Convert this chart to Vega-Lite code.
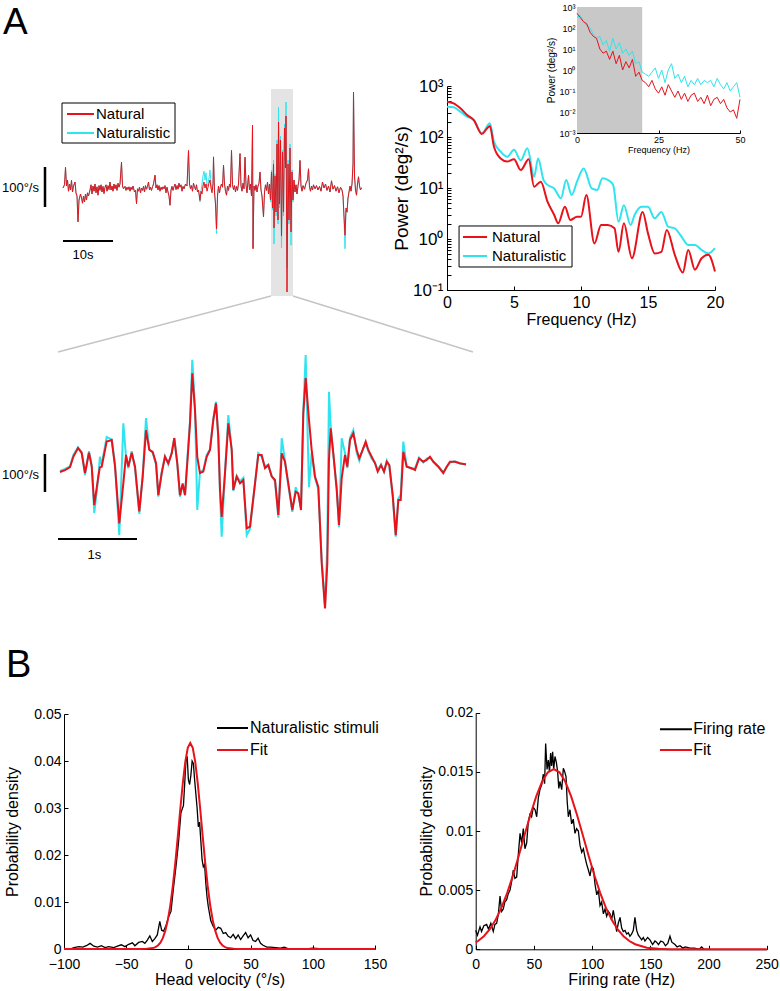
{
  "$schema": "https://vega.github.io/schema/vega-lite/v6.json",
  "width": 780,
  "height": 991,
  "autosize": {"type": "none"},
  "padding": 0,
  "background": "white",
  "config": {
    "font": "Liberation Sans",
    "view": {"stroke": null},
    "axis": {"grid": false, "domainColor": "#000", "tickColor": "#000", "labelColor": "#000", "titleColor": "#000", "titleFontWeight": "normal", "labelFont": "Liberation Sans", "titleFont": "Liberation Sans", "domainWidth": 1, "tickWidth": 1, "labelFlush": false, "labelOverlap": false},
    "text": {"font": "Liberation Sans", "color": "#000"}
  },
  "datasets": {
    "top": [
      {"t":0,"nat":0,"nl":0},{"t":0.3,"nat":8,"nl":8},{"t":0.5,"nat":52,"nl":50},{"t":0.7,"nat":5,"nl":5},{"t":0.9,"nat":20,"nl":18},{"t":1.1,"nat":-8,"nl":-8},{"t":1.3,"nat":10,"nl":10},{"t":1.5,"nat":-5,"nl":-5},{"t":1.7,"nat":19,"nl":19},{"t":1.9,"nat":-10,"nl":-10},{"t":2.1,"nat":5,"nl":5},{"t":2.4,"nat":15,"nl":15},{"t":2.6,"nat":-12,"nl":-15},{"t":2.8,"nat":-20,"nl":-20},{"t":3.0,"nat":-85,"nl":-82},{"t":3.2,"nat":-30,"nl":-30},{"t":3.5,"nat":-15,"nl":-15},{"t":3.7,"nat":-25,"nl":-25},{"t":3.9,"nat":-38,"nl":-38},{"t":4.1,"nat":-20,"nl":-20},{"t":4.3,"nat":-35,"nl":-35},{"t":4.5,"nat":-15,"nl":-15},{"t":4.7,"nat":-30,"nl":-30},{"t":4.9,"nat":-12,"nl":-12},{"t":5.1,"nat":-20,"nl":-20},{"t":5.4,"nat":-5,"nl":-5},{"t":5.6,"nat":8,"nl":8},{"t":5.8,"nat":-15,"nl":-15},{"t":6.0,"nat":5,"nl":5},{"t":6.2,"nat":-8,"nl":-8},{"t":6.4,"nat":10,"nl":10},{"t":6.6,"nat":-12,"nl":-12},{"t":6.8,"nat":3,"nl":3},{"t":7.0,"nat":-18,"nl":-18},{"t":7.2,"nat":6,"nl":6},{"t":7.4,"nat":-6,"nl":-6},{"t":7.6,"nat":8,"nl":8},{"t":7.8,"nat":-10,"nl":-10},{"t":8.0,"nat":4,"nl":4},{"t":8.2,"nat":-14,"nl":-14},{"t":8.4,"nat":2,"nl":2},{"t":8.6,"nat":8,"nl":8},{"t":8.8,"nat":-8,"nl":-8},{"t":9.0,"nat":6,"nl":6},{"t":9.2,"nat":-4,"nl":-4},{"t":9.4,"nat":15,"nl":15},{"t":9.6,"nat":-5,"nl":-5},{"t":9.8,"nat":5,"nl":5},{"t":10.0,"nat":-8,"nl":-8},{"t":10.2,"nat":10,"nl":10},{"t":10.4,"nat":-2,"nl":-2},{"t":10.6,"nat":8,"nl":8},{"t":10.8,"nat":-6,"nl":-6},{"t":11.0,"nat":12,"nl":12},{"t":11.2,"nat":2,"nl":2},{"t":11.4,"nat":10,"nl":10},{"t":11.7,"nat":65,"nl":62},{"t":11.9,"nat":5,"nl":5},{"t":12.1,"nat":-2,"nl":-2},{"t":12.4,"nat":4,"nl":4},{"t":12.6,"nat":-6,"nl":-6},{"t":12.8,"nat":2,"nl":2},{"t":13.0,"nat":-4,"nl":-4},{"t":13.2,"nat":3,"nl":3},{"t":13.4,"nat":-8,"nl":-8},{"t":13.6,"nat":2,"nl":2},{"t":13.8,"nat":-4,"nl":-4},{"t":14.0,"nat":5,"nl":5},{"t":14.3,"nat":-10,"nl":-10},{"t":14.5,"nat":-6,"nl":-6},{"t":14.7,"nat":-39,"nl":-39},{"t":14.9,"nat":-2,"nl":-2},{"t":15.1,"nat":-8,"nl":-8},{"t":15.3,"nat":2,"nl":2},{"t":15.5,"nat":-12,"nl":-12},{"t":15.7,"nat":0,"nl":0},{"t":15.9,"nat":-6,"nl":-6},{"t":16.1,"nat":4,"nl":4},{"t":16.3,"nat":-10,"nl":-10},{"t":16.5,"nat":6,"nl":6},{"t":16.7,"nat":-3,"nl":-3},{"t":16.9,"nat":4,"nl":4},{"t":17.1,"nat":15,"nl":15},{"t":17.3,"nat":-5,"nl":-5},{"t":17.5,"nat":2,"nl":2},{"t":17.7,"nat":-6,"nl":-6},{"t":17.9,"nat":3,"nl":3},{"t":18.1,"nat":10,"nl":10},{"t":18.4,"nat":32,"nl":32},{"t":18.6,"nat":0,"nl":0},{"t":18.8,"nat":8,"nl":8},{"t":19.0,"nat":-5,"nl":-5},{"t":19.2,"nat":6,"nl":6},{"t":19.4,"nat":-8,"nl":-8},{"t":19.6,"nat":2,"nl":2},{"t":19.8,"nat":-4,"nl":-4},{"t":20.0,"nat":3,"nl":3},{"t":20.2,"nat":-2,"nl":-2},{"t":20.4,"nat":6,"nl":6},{"t":20.6,"nat":-12,"nl":-12},{"t":20.8,"nat":2,"nl":2},{"t":21.0,"nat":-10,"nl":-10},{"t":21.2,"nat":-20,"nl":-20},{"t":21.4,"nat":-43,"nl":-43},{"t":21.6,"nat":-5,"nl":-5},{"t":21.8,"nat":4,"nl":4},{"t":22.0,"nat":-6,"nl":-6},{"t":22.2,"nat":3,"nl":3},{"t":22.4,"nat":10,"nl":10},{"t":22.6,"nat":-4,"nl":-4},{"t":22.8,"nat":6,"nl":6},{"t":23.0,"nat":-3,"nl":-3},{"t":23.2,"nat":12,"nl":12},{"t":23.4,"nat":2,"nl":2},{"t":23.6,"nat":8,"nl":8},{"t":23.8,"nat":-8,"nl":-8},{"t":24.0,"nat":4,"nl":4},{"t":24.2,"nat":-2,"nl":-2},{"t":24.5,"nat":10,"nl":10},{"t":24.8,"nat":5,"nl":5},{"t":25.1,"nat":94,"nl":92},{"t":25.3,"nat":10,"nl":10},{"t":25.5,"nat":-2,"nl":-2},{"t":25.7,"nat":6,"nl":6},{"t":25.9,"nat":-8,"nl":-8},{"t":26.1,"nat":12,"nl":12},{"t":26.3,"nat":3,"nl":3},{"t":26.5,"nat":-4,"nl":-4},{"t":26.7,"nat":8,"nl":8},{"t":26.9,"nat":-10,"nl":-10},{"t":27.1,"nat":-5,"nl":-5},{"t":27.4,"nat":-31,"nl":-35},{"t":27.6,"nat":-8,"nl":-8},{"t":27.8,"nat":-15,"nl":10},{"t":28.0,"nat":5,"nl":30},{"t":28.2,"nat":15,"nl":42},{"t":28.4,"nat":0,"nl":20},{"t":28.6,"nat":10,"nl":38},{"t":28.8,"nat":-8,"nl":5},{"t":29.0,"nat":2,"nl":10},{"t":29.2,"nat":12,"nl":25},{"t":29.4,"nat":20,"nl":45},{"t":29.6,"nat":0,"nl":10},{"t":29.8,"nat":-12,"nl":-5},{"t":30.0,"nat":10,"nl":10},{"t":30.1,"nat":78,"nl":75},{"t":30.3,"nat":-10,"nl":-10},{"t":30.5,"nat":-40,"nl":-40},{"t":30.7,"nat":-102,"nl":-114},{"t":30.9,"nat":-20,"nl":-20},{"t":31.1,"nat":5,"nl":5},{"t":31.3,"nat":-12,"nl":-12},{"t":31.5,"nat":3,"nl":3},{"t":31.7,"nat":10,"nl":10},{"t":31.9,"nat":2,"nl":2},{"t":32.1,"nat":57,"nl":57},{"t":32.3,"nat":10,"nl":10},{"t":32.5,"nat":-8,"nl":-8},{"t":32.7,"nat":-18,"nl":-18},{"t":32.9,"nat":5,"nl":5},{"t":33.1,"nat":-6,"nl":-6},{"t":33.3,"nat":10,"nl":10},{"t":33.5,"nat":2,"nl":2},{"t":33.7,"nat":94,"nl":94},{"t":33.9,"nat":8,"nl":8},{"t":34.1,"nat":-4,"nl":-4},{"t":34.3,"nat":6,"nl":6},{"t":34.5,"nat":-10,"nl":-10},{"t":34.7,"nat":4,"nl":4},{"t":34.9,"nat":-6,"nl":-6},{"t":35.1,"nat":10,"nl":10},{"t":35.4,"nat":86,"nl":86},{"t":35.6,"nat":5,"nl":5},{"t":35.8,"nat":-8,"nl":-8},{"t":36.0,"nat":12,"nl":12},{"t":36.2,"nat":-2,"nl":-2},{"t":36.4,"nat":77,"nl":77},{"t":36.6,"nat":8,"nl":8},{"t":36.8,"nat":-12,"nl":-12},{"t":37.1,"nat":32,"nl":32},{"t":37.3,"nat":-5,"nl":-5},{"t":37.5,"nat":10,"nl":10},{"t":37.7,"nat":-20,"nl":-20},{"t":37.9,"nat":157,"nl":150},{"t":38.0,"nat":-152,"nl":-150},{"t":38.2,"nat":5,"nl":5},{"t":38.4,"nat":-6,"nl":-6},{"t":38.6,"nat":8,"nl":8},{"t":38.8,"nat":-10,"nl":-10},{"t":39.0,"nat":5,"nl":5},{"t":39.2,"nat":12,"nl":12},{"t":39.4,"nat":40,"nl":40},{"t":39.6,"nat":-5,"nl":-5},{"t":39.8,"nat":-20,"nl":-20},{"t":40.1,"nat":-72,"nl":-72},{"t":40.3,"nat":-10,"nl":-10},{"t":40.5,"nat":8,"nl":8},{"t":40.7,"nat":-6,"nl":-6},{"t":40.9,"nat":15,"nl":15},{"t":41.1,"nat":-15,"nl":-15},{"t":41.3,"nat":10,"nl":10},{"t":41.5,"nat":-30,"nl":-35},{"t":41.7,"nat":40,"nl":45},{"t":41.9,"nat":-50,"nl":-55},{"t":42.1,"nat":60,"nl":70},{"t":42.2,"nat":-100,"nl":-140},{"t":42.4,"nat":30,"nl":35},{"t":42.6,"nat":-60,"nl":-70},{"t":42.8,"nat":110,"nl":120},{"t":43.0,"nat":-80,"nl":-90},{"t":43.1,"nat":165,"nl":202},{"t":43.3,"nat":-40,"nl":-50},{"t":43.5,"nat":120,"nl":130},{"t":43.7,"nat":-120,"nl":-150},{"t":43.9,"nat":90,"nl":95},{"t":44.1,"nat":-60,"nl":-70},{"t":44.3,"nat":150,"nl":160},{"t":44.5,"nat":50,"nl":60},{"t":44.6,"nat":180,"nl":215},{"t":44.8,"nat":-260,"nl":-200},{"t":45.0,"nat":60,"nl":70},{"t":45.2,"nat":-80,"nl":-90},{"t":45.4,"nat":100,"nl":110},{"t":45.6,"nat":-110,"nl":-143},{"t":45.8,"nat":40,"nl":45},{"t":46.0,"nat":-30,"nl":-35},{"t":46.2,"nat":20,"nl":20},{"t":46.4,"nat":-10,"nl":-10},{"t":46.6,"nat":8,"nl":8},{"t":46.8,"nat":-15,"nl":-15},{"t":47.0,"nat":5,"nl":5},{"t":47.2,"nat":20,"nl":20},{"t":47.4,"nat":69,"nl":69},{"t":47.6,"nat":5,"nl":5},{"t":47.8,"nat":-8,"nl":-8},{"t":48.0,"nat":6,"nl":6},{"t":48.3,"nat":-3,"nl":-3},{"t":48.6,"nat":12,"nl":12},{"t":48.9,"nat":20,"nl":20},{"t":49.1,"nat":48,"nl":48},{"t":49.3,"nat":2,"nl":2},{"t":49.5,"nat":-8,"nl":-8},{"t":49.7,"nat":5,"nl":5},{"t":49.9,"nat":-5,"nl":-5},{"t":50.1,"nat":8,"nl":8},{"t":50.4,"nat":-2,"nl":-2},{"t":50.7,"nat":6,"nl":6},{"t":51.0,"nat":-5,"nl":-5},{"t":51.3,"nat":4,"nl":4},{"t":51.6,"nat":-8,"nl":-8},{"t":51.9,"nat":15,"nl":15},{"t":52.2,"nat":0,"nl":0},{"t":52.5,"nat":10,"nl":10},{"t":52.8,"nat":-6,"nl":-6},{"t":53.1,"nat":5,"nl":5},{"t":53.4,"nat":-10,"nl":-10},{"t":53.7,"nat":18,"nl":18},{"t":54.0,"nat":-3,"nl":-3},{"t":54.3,"nat":6,"nl":6},{"t":54.6,"nat":-8,"nl":-8},{"t":54.9,"nat":3,"nl":3},{"t":55.2,"nat":-12,"nl":-12},{"t":55.5,"nat":2,"nl":2},{"t":55.8,"nat":-5,"nl":-5},{"t":56.0,"nat":-20,"nl":-20},{"t":56.2,"nat":-70,"nl":-75},{"t":56.4,"nat":-118,"nl":-152},{"t":56.6,"nat":-50,"nl":-55},{"t":56.8,"nat":-60,"nl":-62},{"t":57.0,"nat":-25,"nl":-25},{"t":57.2,"nat":-10,"nl":-10},{"t":57.4,"nat":5,"nl":5},{"t":57.6,"nat":-8,"nl":-8},{"t":57.8,"nat":10,"nl":10},{"t":58.0,"nat":60,"nl":60},{"t":58.1,"nat":240,"nl":238},{"t":58.3,"nat":30,"nl":30},{"t":58.5,"nat":-5,"nl":-5},{"t":58.7,"nat":-18,"nl":-18},{"t":58.9,"nat":10,"nl":10},{"t":59.1,"nat":28,"nl":28},{"t":59.3,"nat":5,"nl":5},{"t":59.5,"nat":-5,"nl":-5},{"t":59.7,"nat":0,"nl":2}
    ],
    "bot": [
      {"t":0.025,"nat":0,"nl":3},{"t":0.089,"nat":5,"nl":8},{"t":0.152,"nat":13,"nl":15},{"t":0.194,"nat":40,"nl":45},{"t":0.253,"nat":63,"nl":65},{"t":0.3,"nat":50,"nl":52},{"t":0.342,"nat":-3,"nl":-8},{"t":0.392,"nat":51,"nl":55},{"t":0.427,"nat":14,"nl":18},{"t":0.459,"nat":-87,"nl":-108},{"t":0.51,"nat":-12,"nl":-15},{"t":0.53,"nat":12,"nl":40},{"t":0.553,"nat":14,"nl":20},{"t":0.616,"nat":80,"nl":92},{"t":0.68,"nat":84,"nl":86},{"t":0.722,"nat":14,"nl":20},{"t":0.776,"nat":-135,"nl":-166},{"t":0.827,"nat":-30,"nl":128},{"t":0.861,"nat":45,"nl":40},{"t":0.89,"nat":14,"nl":10},{"t":0.933,"nat":51,"nl":55},{"t":0.975,"nat":14,"nl":10},{"t":1.029,"nat":-104,"nl":-110},{"t":1.072,"nat":-12,"nl":-10},{"t":1.114,"nat":110,"nl":142},{"t":1.156,"nat":58,"nl":60},{"t":1.199,"nat":53,"nl":50},{"t":1.241,"nat":23,"nl":20},{"t":1.27,"nat":-61,"nl":-65},{"t":1.313,"nat":-3,"nl":0},{"t":1.354,"nat":40,"nl":42},{"t":1.396,"nat":23,"nl":20},{"t":1.439,"nat":49,"nl":50},{"t":1.472,"nat":89,"nl":90},{"t":1.51,"nat":23,"nl":20},{"t":1.544,"nat":-61,"nl":-65},{"t":1.578,"nat":-30,"nl":-35},{"t":1.608,"nat":-61,"nl":-60},{"t":1.642,"nat":40,"nl":50},{"t":1.671,"nat":128,"nl":135},{"t":1.7,"nat":260,"nl":295},{"t":1.734,"nat":163,"nl":170},{"t":1.763,"nat":40,"nl":-100},{"t":1.797,"nat":-3,"nl":0},{"t":1.839,"nat":1,"nl":5},{"t":1.882,"nat":40,"nl":45},{"t":1.924,"nat":58,"nl":60},{"t":1.966,"nat":137,"nl":140},{"t":2.0,"nat":181,"nl":185},{"t":2.029,"nat":93,"nl":95},{"t":2.051,"nat":-47,"nl":-60},{"t":2.072,"nat":-118,"nl":-170},{"t":2.114,"nat":-3,"nl":0},{"t":2.156,"nat":128,"nl":150},{"t":2.199,"nat":58,"nl":60},{"t":2.219,"nat":-47,"nl":-50},{"t":2.262,"nat":-12,"nl":-10},{"t":2.304,"nat":-30,"nl":-25},{"t":2.346,"nat":-21,"nl":-15},{"t":2.389,"nat":-148,"nl":-166},{"t":2.43,"nat":-144,"nl":-150},{"t":2.494,"nat":-30,"nl":-30},{"t":2.535,"nat":45,"nl":50},{"t":2.578,"nat":45,"nl":40},{"t":2.62,"nat":10,"nl":15},{"t":2.662,"nat":18,"nl":20},{"t":2.705,"nat":-12,"nl":-10},{"t":2.747,"nat":-21,"nl":-25},{"t":2.789,"nat":-113,"nl":-120},{"t":2.832,"nat":49,"nl":89},{"t":2.873,"nat":27,"nl":30},{"t":2.915,"nat":-30,"nl":-35},{"t":2.966,"nat":-100,"nl":-105},{"t":3.009,"nat":-52,"nl":-40},{"t":3.042,"nat":-56,"nl":-60},{"t":3.076,"nat":-100,"nl":-95},{"t":3.105,"nat":154,"nl":160},{"t":3.135,"nat":247,"nl":308},{"t":3.177,"nat":137,"nl":-40},{"t":3.211,"nat":58,"nl":50},{"t":3.253,"nat":-12,"nl":-15},{"t":3.295,"nat":-39,"nl":-45},{"t":3.338,"nat":-240,"nl":-230},{"t":3.38,"nat":-359,"nl":-355},{"t":3.409,"nat":-240,"nl":-190},{"t":3.43,"nat":32,"nl":211},{"t":3.452,"nat":115,"nl":120},{"t":3.485,"nat":49,"nl":45},{"t":3.528,"nat":-47,"nl":-40},{"t":3.557,"nat":-139,"nl":-145},{"t":3.591,"nat":-17,"nl":89},{"t":3.633,"nat":45,"nl":50},{"t":3.662,"nat":14,"nl":10},{"t":3.696,"nat":84,"nl":90},{"t":3.738,"nat":102,"nl":110},{"t":3.781,"nat":58,"nl":50},{"t":3.814,"nat":36,"nl":30},{"t":3.857,"nat":58,"nl":60},{"t":3.895,"nat":80,"nl":75},{"t":3.928,"nat":58,"nl":55},{"t":3.971,"nat":40,"nl":35},{"t":4.013,"nat":23,"nl":25},{"t":4.047,"nat":1,"nl":5},{"t":4.089,"nat":18,"nl":20},{"t":4.127,"nat":1,"nl":0},{"t":4.162,"nat":27,"nl":30},{"t":4.194,"nat":18,"nl":15},{"t":4.237,"nat":-61,"nl":-65},{"t":4.275,"nat":-166,"nl":-170},{"t":4.308,"nat":-74,"nl":-70},{"t":4.338,"nat":-74,"nl":-60},{"t":4.371,"nat":53,"nl":80},{"t":4.414,"nat":14,"nl":15},{"t":4.477,"nat":10,"nl":8},{"t":4.519,"nat":5,"nl":10},{"t":4.57,"nat":36,"nl":38},{"t":4.624,"nat":27,"nl":25},{"t":4.667,"nat":32,"nl":35},{"t":4.709,"nat":40,"nl":38},{"t":4.751,"nat":27,"nl":28},{"t":4.814,"nat":14,"nl":15},{"t":4.877,"nat":-3,"nl":0},{"t":4.92,"nat":14,"nl":12},{"t":4.962,"nat":27,"nl":25},{"t":5.025,"nat":27,"nl":28},{"t":5.089,"nat":23,"nl":22},{"t":5.165,"nat":20,"nl":21}
    ],
    "specNat": [
      {"f":0,"p":493},{"f":0.5,"p":457},{"f":1,"p":365},{"f":1.5,"p":270},{"f":2,"p":215},{"f":2.6,"p":115},{"f":3,"p":148},{"f":3.2,"p":164},{"f":3.5,"p":65},{"f":4,"p":38},{"f":4.5,"p":33},{"f":5,"p":36.5},{"f":5.5,"p":22.5},{"f":6.1,"p":36.5},{"f":6.5,"p":10.6},{"f":7,"p":13.3},{"f":7.5,"p":5.4},{"f":8,"p":2.96},{"f":8.3,"p":2.03},{"f":8.8,"p":4.3},{"f":9.2,"p":2.36},{"f":9.7,"p":2.74},{"f":10,"p":2.74},{"f":10.4,"p":7.3},{"f":11,"p":0.82},{"f":11.5,"p":1.88},{"f":12,"p":1.88},{"f":12.5,"p":1.62},{"f":12.8,"p":0.56},{"f":13.2,"p":2.03},{"f":13.8,"p":0.42},{"f":14.6,"p":3.4},{"f":15,"p":1.29},{"f":15.5,"p":0.52},{"f":16,"p":0.56},{"f":16.4,"p":1.5},{"f":17,"p":0.49},{"f":17.6,"p":0.22},{"f":18,"p":0.61},{"f":18.5,"p":0.25},{"f":19,"p":0.42},{"f":19.5,"p":0.49},{"f":20,"p":0.23}
    ],
    "specNl": [
      {"f":0,"p":394},{"f":0.5,"p":382},{"f":1,"p":314},{"f":1.5,"p":250},{"f":2,"p":215},{"f":2.6,"p":118},{"f":3.2,"p":185},{"f":3.5,"p":81},{"f":4,"p":52},{"f":4.5,"p":41},{"f":5,"p":56},{"f":5.5,"p":35},{"f":6,"p":60},{"f":6.5,"p":16.7},{"f":6.8,"p":38},{"f":7.2,"p":14.4},{"f":7.5,"p":11.5},{"f":8,"p":9.8},{"f":8.5,"p":6.3},{"f":8.9,"p":14.4},{"f":9.3,"p":7.3},{"f":9.7,"p":13.3},{"f":10.2,"p":24},{"f":10.8,"p":9.8},{"f":11.2,"p":9.1},{"f":11.6,"p":15.5},{"f":12,"p":14.4},{"f":12.4,"p":11.5},{"f":12.8,"p":2.19},{"f":13.2,"p":4.6},{"f":13.7,"p":1.88},{"f":14,"p":2.96},{"f":14.5,"p":4.3},{"f":15,"p":4.3},{"f":15.5,"p":2.54},{"f":16,"p":3.4},{"f":16.5,"p":1.75},{"f":17,"p":1.62},{"f":17.5,"p":1.11},{"f":18,"p":0.76},{"f":18.5,"p":0.76},{"f":19,"p":0.61},{"f":19.5,"p":0.52},{"f":20,"p":0.66}
    ],
    "inset": [
      {"f":0,"nat":501,"nl":316},{"f":1,"nat":316,"nl":398},{"f":2,"nat":200,"nl":200},{"f":3,"nat":158,"nl":126},{"f":4,"nat":63,"nl":100},{"f":5,"nat":40,"nl":50},{"f":6,"nat":32,"nl":32},{"f":7,"nat":10,"nl":40},{"f":8,"nat":6.3,"nl":15.8},{"f":9,"nat":7.9,"nl":25},{"f":10,"nat":3.2,"nl":7.9},{"f":11,"nat":7.9,"nl":32},{"f":12,"nat":2,"nl":10},{"f":13,"nat":5,"nl":20},{"f":14,"nat":1,"nl":6.3},{"f":15,"nat":2.5,"nl":10},{"f":16,"nat":1.26,"nl":5},{"f":17,"nat":3.2,"nl":7.9},{"f":18,"nat":0.5,"nl":2},{"f":19,"nat":0.79,"nl":2.5},{"f":20,"nat":0.32,"nl":0.79},{"f":21,"nat":0.25,"nl":0.63},{"f":22,"nat":0.16,"nl":0.5},{"f":23,"nat":0.32,"nl":0.79},{"f":24,"nat":0.126,"nl":1.26},{"f":25,"nat":0.079,"nl":0.4},{"f":26,"nat":0.158,"nl":1},{"f":27,"nat":0.063,"nl":0.25},{"f":28,"nat":0.2,"nl":1},{"f":29,"nat":0.1,"nl":2},{"f":30,"nat":0.05,"nl":0.4},{"f":31,"nat":0.1,"nl":0.63},{"f":32,"nat":0.04,"nl":0.25},{"f":33,"nat":0.079,"nl":0.5},{"f":34,"nat":0.032,"nl":0.158},{"f":35,"nat":0.063,"nl":0.32},{"f":36,"nat":0.079,"nl":0.2},{"f":37,"nat":0.032,"nl":0.4},{"f":38,"nat":0.05,"nl":0.2},{"f":39,"nat":0.025,"nl":0.32},{"f":40,"nat":0.063,"nl":0.25},{"f":41,"nat":0.02,"nl":0.32},{"f":42,"nat":0.04,"nl":0.158},{"f":43,"nat":0.05,"nl":0.4},{"f":44,"nat":0.025,"nl":0.2},{"f":45,"nat":0.04,"nl":0.126},{"f":46,"nat":0.0158,"nl":0.25},{"f":47,"nat":0.01,"nl":0.1},{"f":48,"nat":0.0126,"nl":0.158},{"f":49,"nat":0.005,"nl":0.25},{"f":50,"nat":0.04,"nl":0.05}
    ],
    "bl": [
      {"v":-95,"p":0},{"v":-92,"p":0.0003},{"v":-88,"p":0.0005},{"v":-85,"p":0.0004},{"v":-82,"p":0.0007},{"v":-79,"p":0.0012},{"v":-76,"p":0.0006},{"v":-73,"p":0.0004},{"v":-70,"p":0.0007},{"v":-67,"p":0.0003},{"v":-64,"p":0.0005},{"v":-60,"p":0.0003},{"v":-57,"p":0.0006},{"v":-54,"p":0.0009},{"v":-51,"p":0.0005},{"v":-48,"p":0.001},{"v":-45,"p":0.0013},{"v":-43,"p":0.0007},{"v":-40,"p":0.0014},{"v":-37,"p":0.0016},{"v":-35,"p":0.0012},{"v":-33,"p":0.0019},{"v":-31,"p":0.0028},{"v":-29,"p":0.0016},{"v":-27,"p":0.0022},{"v":-25,"p":0.003},{"v":-23,"p":0.0059},{"v":-21.5,"p":0.004},{"v":-20,"p":0.0038},{"v":-18,"p":0.005},{"v":-16,"p":0.0068},{"v":-14,"p":0.008},{"v":-12,"p":0.013},{"v":-10,"p":0.0175},{"v":-8,"p":0.0225},{"v":-6,"p":0.029},{"v":-4,"p":0.0305},{"v":-3,"p":0.035},{"v":-2,"p":0.04},{"v":-1,"p":0.041},{"v":0,"p":0.036},{"v":1,"p":0.035},{"v":2,"p":0.037},{"v":3,"p":0.04},{"v":4,"p":0.0395},{"v":5,"p":0.036},{"v":6,"p":0.033},{"v":7,"p":0.03},{"v":8,"p":0.026},{"v":9,"p":0.027},{"v":10,"p":0.023},{"v":11,"p":0.019},{"v":12,"p":0.0175},{"v":13,"p":0.018},{"v":14,"p":0.014},{"v":15,"p":0.011},{"v":16,"p":0.009},{"v":17,"p":0.0075},{"v":18,"p":0.006},{"v":20,"p":0.0048},{"v":22,"p":0.004},{"v":24,"p":0.0046},{"v":26,"p":0.0044},{"v":28,"p":0.0033},{"v":30,"p":0.0035},{"v":32,"p":0.0027},{"v":34,"p":0.0024},{"v":36,"p":0.0031},{"v":38,"p":0.0022},{"v":40,"p":0.003},{"v":42,"p":0.002},{"v":44,"p":0.0028},{"v":46,"p":0.0035},{"v":48,"p":0.0024},{"v":50,"p":0.003},{"v":52,"p":0.0018},{"v":54,"p":0.0016},{"v":56,"p":0.0023},{"v":58,"p":0.0012},{"v":60,"p":0.0008},{"v":63,"p":0.0004},{"v":66,"p":0.0004},{"v":70,"p":0.0003},{"v":74,"p":0.0002},{"v":77,"p":0.0004},{"v":80,"p":0.0001},{"v":85,"p":0.0001},{"v":95,"p":0},{"v":100,"p":0.0002},{"v":105,"p":0.0001},{"v":110,"p":0}
    ],
    "blfit": [
      {"v":-100,"p":0},{"v":-38.5,"p":0},{"v":-33.5,"p":0.00003},{"v":-28.5,"p":0.00019},{"v":-26.5,"p":0.00039},{"v":-24.5,"p":0.00074},{"v":-22.5,"p":0.00135},{"v":-20.5,"p":0.00236},{"v":-18.5,"p":0.00392},{"v":-16.5,"p":0.0062},{"v":-14.5,"p":0.00935},{"v":-12.5,"p":0.01342},{"v":-10.5,"p":0.01838},{"v":-8.5,"p":0.02397},{"v":-6.5,"p":0.02979},{"v":-4.5,"p":0.03527},{"v":-2.5,"p":0.0398},{"v":-0.5,"p":0.04279},{"v":1.5,"p":0.04384},{"v":3.5,"p":0.04279},{"v":5.5,"p":0.0398},{"v":7.5,"p":0.03527},{"v":9.5,"p":0.02979},{"v":11.5,"p":0.02397},{"v":13.5,"p":0.01838},{"v":15.5,"p":0.01342},{"v":17.5,"p":0.00935},{"v":19.5,"p":0.0062},{"v":21.5,"p":0.00392},{"v":23.5,"p":0.00236},{"v":25.5,"p":0.00135},{"v":27.5,"p":0.00074},{"v":29.5,"p":0.00039},{"v":31.5,"p":0.00019},{"v":36.5,"p":0.00003},{"v":41.5,"p":0},{"v":150,"p":0}
    ],
    "br": [
      {"hz":0,"p":0.0016},{"hz":1.5,"p":0.0012},{"hz":3.7,"p":0.0019},{"hz":5,"p":0.0015},{"hz":7,"p":0.002},{"hz":9.4,"p":0.0021},{"hz":11,"p":0.0017},{"hz":13,"p":0.0022},{"hz":15.1,"p":0.0015},{"hz":16.5,"p":0.0021},{"hz":18,"p":0.0022},{"hz":19.5,"p":0.003},{"hz":20.9,"p":0.0045},{"hz":22.3,"p":0.0032},{"hz":23.7,"p":0.0034},{"hz":25,"p":0.004},{"hz":26.6,"p":0.0042},{"hz":28,"p":0.0047},{"hz":29.5,"p":0.005},{"hz":31,"p":0.0058},{"hz":32.3,"p":0.0067},{"hz":33.7,"p":0.006},{"hz":35.2,"p":0.0061},{"hz":36.6,"p":0.008},{"hz":38.1,"p":0.0098},{"hz":39.5,"p":0.009},{"hz":40.9,"p":0.0102},{"hz":42.3,"p":0.0085},{"hz":43.8,"p":0.009},{"hz":45.2,"p":0.0108},{"hz":46.6,"p":0.0114},{"hz":48,"p":0.0112},{"hz":49.5,"p":0.012},{"hz":51,"p":0.0118},{"hz":52.4,"p":0.0112},{"hz":53.8,"p":0.0128},{"hz":55.2,"p":0.0135},{"hz":56.7,"p":0.0139},{"hz":58.1,"p":0.0148},{"hz":59.2,"p":0.014},{"hz":60.1,"p":0.0174},{"hz":61.3,"p":0.0152},{"hz":62.4,"p":0.016},{"hz":63.4,"p":0.015},{"hz":64.4,"p":0.0166},{"hz":65.2,"p":0.0155},{"hz":66.1,"p":0.0167},{"hz":67,"p":0.0152},{"hz":68.1,"p":0.0163},{"hz":69.3,"p":0.0158},{"hz":70.4,"p":0.015},{"hz":71.4,"p":0.0136},{"hz":72.4,"p":0.0142},{"hz":73.9,"p":0.0135},{"hz":75.3,"p":0.0153},{"hz":76.5,"p":0.015},{"hz":77.6,"p":0.0146},{"hz":78.6,"p":0.0125},{"hz":79.6,"p":0.0112},{"hz":81,"p":0.0118},{"hz":82.4,"p":0.0106},{"hz":83.8,"p":0.011},{"hz":85.3,"p":0.0098},{"hz":86.7,"p":0.0102},{"hz":88.2,"p":0.01},{"hz":89.6,"p":0.0088},{"hz":91.1,"p":0.0082},{"hz":92.5,"p":0.0085},{"hz":93.9,"p":0.0078},{"hz":95.3,"p":0.0072},{"hz":96.8,"p":0.0067},{"hz":98.2,"p":0.0062},{"hz":99.6,"p":0.007},{"hz":101.1,"p":0.0068},{"hz":102.5,"p":0.0055},{"hz":104,"p":0.0046},{"hz":105.4,"p":0.005},{"hz":106.8,"p":0.0037},{"hz":108.2,"p":0.004},{"hz":109.7,"p":0.003},{"hz":111.1,"p":0.0034},{"hz":112.5,"p":0.0028},{"hz":114,"p":0.0032},{"hz":115.4,"p":0.003},{"hz":116.8,"p":0.0025},{"hz":118.2,"p":0.0033},{"hz":119.7,"p":0.0024},{"hz":121.1,"p":0.0015},{"hz":122.5,"p":0.0022},{"hz":124,"p":0.0027},{"hz":125.4,"p":0.0018},{"hz":126.8,"p":0.0015},{"hz":128.3,"p":0.0016},{"hz":129.7,"p":0.0013},{"hz":131.1,"p":0.0014},{"hz":132.5,"p":0.0011},{"hz":134,"p":0.0013},{"hz":135.4,"p":0.0016},{"hz":136.8,"p":0.0027},{"hz":138.3,"p":0.0016},{"hz":139.7,"p":0.0012},{"hz":141.1,"p":0.001},{"hz":142.6,"p":0.0008},{"hz":144,"p":0.001},{"hz":145.4,"p":0.0007},{"hz":147.7,"p":0.001},{"hz":149.7,"p":0.0008},{"hz":152,"p":0.0004},{"hz":154,"p":0.0007},{"hz":155.4,"p":0.0006},{"hz":157,"p":0.0004},{"hz":159,"p":0.0007},{"hz":161.2,"p":0.0006},{"hz":163,"p":0.0003},{"hz":165,"p":0.0005},{"hz":166.9,"p":0.0011},{"hz":168.5,"p":0.0006},{"hz":171.2,"p":0.0004},{"hz":173,"p":0.0002},{"hz":175.5,"p":0.0003},{"hz":178,"p":0.0001},{"hz":180,"p":0.0002},{"hz":184.1,"p":0.0001},{"hz":188,"p":0.0001},{"hz":192,"p":0},{"hz":194.1,"p":0.0002},{"hz":196,"p":0},{"hz":201.3,"p":0}
    ],
    "brfit": [
      {"hz":0,"p":0.00058},{"hz":2,"p":0.0007},{"hz":7,"p":0.00111},{"hz":12,"p":0.00168},{"hz":17,"p":0.00247},{"hz":22,"p":0.00348},{"hz":27,"p":0.00475},{"hz":32,"p":0.00624},{"hz":37,"p":0.00791},{"hz":42,"p":0.00966},{"hz":47,"p":0.01138},{"hz":52,"p":0.01293},{"hz":57,"p":0.01416},{"hz":62,"p":0.01496},{"hz":67,"p":0.01523},{"hz":72,"p":0.01496},{"hz":77,"p":0.01416},{"hz":82,"p":0.01293},{"hz":87,"p":0.01138},{"hz":92,"p":0.00966},{"hz":97,"p":0.00791},{"hz":102,"p":0.00624},{"hz":107,"p":0.00475},{"hz":112,"p":0.00348},{"hz":117,"p":0.00247},{"hz":122,"p":0.00168},{"hz":127,"p":0.00111},{"hz":132,"p":0.0007},{"hz":137,"p":0.00043},{"hz":147,"p":0.00014},{"hz":157,"p":0.00004},{"hz":167,"p":0.00001},{"hz":180,"p":0},{"hz":250,"p":0}
    ]
  },
  "resolve": {"scale": {"x": "independent", "y": "independent"}, "axis": {"x": "independent", "y": "independent"}},
  "layer": [
    {"data": {"values": [{}]}, "mark": {"type": "rect", "color": "#e4e4e4"},
     "encoding": {"x": {"datum": 41.6, "type": "quantitative", "axis": null, "scale": {"domain": [0, 60], "range": [63, 363], "nice": false, "zero": false}}, "x2": {"datum": 46.0}, "y": {"datum": 247.5, "type": "quantitative", "axis": null, "scale": {"domain": [-300, 300], "range": [308, 68], "nice": false, "zero": false}}, "y2": {"datum": -270}}},
    {"data": {"name": "top"}, "mark": {"type": "line", "color": "#2fe4ee", "strokeWidth": 1},
     "encoding": {"x": {"field": "t", "type": "quantitative", "axis": null, "scale": {"domain": [0, 60], "range": [63, 363], "nice": false, "zero": false}}, "y": {"field": "nl", "type": "quantitative", "axis": null, "scale": {"domain": [-300, 300], "range": [308, 68], "nice": false, "zero": false}}}},
    {"data": {"name": "top"}, "mark": {"type": "line", "color": "#e8121a", "strokeWidth": 1},
     "encoding": {"x": {"field": "t", "type": "quantitative", "axis": null, "scale": {"domain": [0, 60], "range": [63, 363], "nice": false, "zero": false}}, "y": {"field": "nat", "type": "quantitative", "axis": null, "scale": {"domain": [-300, 300], "range": [308, 68], "nice": false, "zero": false}}}},
    {"data": {"values": [{}]}, "mark": {"type": "rule", "color": "#000", "strokeWidth": 2.5},
     "encoding": {"x": {"datum": -3.6, "type": "quantitative", "axis": null, "scale": {"domain": [0, 60], "range": [63, 363], "nice": false, "zero": false}}, "y": {"datum": 52.5, "type": "quantitative", "axis": null, "scale": {"domain": [-300, 300], "range": [308, 68], "nice": false, "zero": false}}, "y2": {"datum": -47.5}}},
    {"data": {"values": [{}]}, "mark": {"type": "rule", "color": "#000", "strokeWidth": 2},
     "encoding": {"x": {"datum": 0, "type": "quantitative", "axis": null, "scale": {"domain": [0, 60], "range": [63, 363], "nice": false, "zero": false}}, "x2": {"datum": 10}, "y": {"datum": -132.5, "type": "quantitative", "axis": null, "scale": {"domain": [-300, 300], "range": [308, 68], "nice": false, "zero": false}}}},
    {"data": {"values": [{"label": "100°/s"}]}, "mark": {"type": "text", "align": "right", "baseline": "middle", "fontSize": 13},
     "encoding": {"x": {"datum": -4.8, "type": "quantitative", "axis": null, "scale": {"domain": [0, 60], "range": [63, 363], "nice": false, "zero": false}}, "y": {"datum": 0, "type": "quantitative", "axis": null, "scale": {"domain": [-300, 300], "range": [308, 68], "nice": false, "zero": false}}, "text": {"field": "label"}}},
    {"data": {"values": [{"label": "10s"}]}, "mark": {"type": "text", "align": "center", "baseline": "middle", "fontSize": 13},
     "encoding": {"x": {"datum": 4, "type": "quantitative", "axis": null, "scale": {"domain": [0, 60], "range": [63, 363], "nice": false, "zero": false}}, "y": {"datum": -167.5, "type": "quantitative", "axis": null, "scale": {"domain": [-300, 300], "range": [308, 68], "nice": false, "zero": false}}, "text": {"field": "label"}}},
    {"data": {"values": [{"label": "A"}]}, "mark": {"type": "text", "align": "left", "baseline": "alphabetic", "fontSize": 37},
     "encoding": {"x": {"datum": -12, "type": "quantitative", "axis": null, "scale": {"domain": [0, 60], "range": [63, 363], "nice": false, "zero": false}}, "y": {"datum": 385, "type": "quantitative", "axis": null, "scale": {"domain": [-300, 300], "range": [308, 68], "nice": false, "zero": false}}, "text": {"field": "label"}}},
    {"data": {"values": [{}]}, "mark": {"type": "rect", "fill": "#fff", "stroke": "#000", "strokeWidth": 1},
     "encoding": {"x": {"datum": -0.2, "type": "quantitative", "axis": null, "scale": {"domain": [0, 60], "range": [63, 363], "nice": false, "zero": false}}, "x2": {"datum": 22.4}, "y": {"datum": 212.5, "type": "quantitative", "axis": null, "scale": {"domain": [-300, 300], "range": [308, 68], "nice": false, "zero": false}}, "y2": {"datum": 112.5}}},
    {"data": {"values": [{}]}, "mark": {"type": "rule", "color": "#e8121a", "strokeWidth": 2},
     "encoding": {"x": {"datum": 0.8, "type": "quantitative", "axis": null, "scale": {"domain": [0, 60], "range": [63, 363], "nice": false, "zero": false}}, "x2": {"datum": 6.2}, "y": {"datum": 185, "type": "quantitative", "axis": null, "scale": {"domain": [-300, 300], "range": [308, 68], "nice": false, "zero": false}}}},
    {"data": {"values": [{}]}, "mark": {"type": "rule", "color": "#2fe4ee", "strokeWidth": 2},
     "encoding": {"x": {"datum": 0.8, "type": "quantitative", "axis": null, "scale": {"domain": [0, 60], "range": [63, 363], "nice": false, "zero": false}}, "x2": {"datum": 6.2}, "y": {"datum": 137.5, "type": "quantitative", "axis": null, "scale": {"domain": [-300, 300], "range": [308, 68], "nice": false, "zero": false}}}},
    {"data": {"values": [{"label": "Natural"}]}, "mark": {"type": "text", "align": "left", "baseline": "middle", "fontSize": 15},
     "encoding": {"x": {"datum": 6.6, "type": "quantitative", "axis": null, "scale": {"domain": [0, 60], "range": [63, 363], "nice": false, "zero": false}}, "y": {"datum": 185, "type": "quantitative", "axis": null, "scale": {"domain": [-300, 300], "range": [308, 68], "nice": false, "zero": false}}, "text": {"field": "label"}}},
    {"data": {"values": [{"label": "Naturalistic"}]}, "mark": {"type": "text", "align": "left", "baseline": "middle", "fontSize": 15},
     "encoding": {"x": {"datum": 6.6, "type": "quantitative", "axis": null, "scale": {"domain": [0, 60], "range": [63, 363], "nice": false, "zero": false}}, "y": {"datum": 137.5, "type": "quantitative", "axis": null, "scale": {"domain": [-300, 300], "range": [308, 68], "nice": false, "zero": false}}, "text": {"field": "label"}}},

    {"data": {"values": [{}]}, "mark": {"type": "rule", "color": "#c4c4c4", "strokeWidth": 1.5},
     "encoding": {"x": {"datum": 2.696, "type": "quantitative", "axis": null, "scale": {"domain": [0, 5.25], "range": [58, 472.75], "nice": false, "zero": false}}, "y": {"datum": 463.2, "type": "quantitative", "axis": null, "scale": {"domain": [-400, 400], "range": [624, 320], "nice": false, "zero": false}}, "x2": {"datum": 0}, "y2": {"datum": 315.8}}},
    {"data": {"values": [{}]}, "mark": {"type": "rule", "color": "#c4c4c4", "strokeWidth": 1.5},
     "encoding": {"x": {"datum": 2.975, "type": "quantitative", "axis": null, "scale": {"domain": [0, 5.25], "range": [58, 472.75], "nice": false, "zero": false}}, "y": {"datum": 463.2, "type": "quantitative", "axis": null, "scale": {"domain": [-400, 400], "range": [624, 320], "nice": false, "zero": false}}, "x2": {"datum": 5.253}, "y2": {"datum": 315.8}}},
    {"data": {"name": "bot"}, "mark": {"type": "line", "color": "#2fe4ee", "strokeWidth": 2},
     "encoding": {"x": {"field": "t", "type": "quantitative", "axis": null, "scale": {"domain": [0, 5.25], "range": [58, 472.75], "nice": false, "zero": false}}, "y": {"field": "nl", "type": "quantitative", "axis": null, "scale": {"domain": [-400, 400], "range": [624, 320], "nice": false, "zero": false}}}},
    {"data": {"name": "bot"}, "mark": {"type": "line", "color": "#e8121a", "strokeWidth": 2},
     "encoding": {"x": {"field": "t", "type": "quantitative", "axis": null, "scale": {"domain": [0, 5.25], "range": [58, 472.75], "nice": false, "zero": false}}, "y": {"field": "nat", "type": "quantitative", "axis": null, "scale": {"domain": [-400, 400], "range": [624, 320], "nice": false, "zero": false}}}},
    {"data": {"values": [{}]}, "mark": {"type": "rule", "color": "#000", "strokeWidth": 2.5},
     "encoding": {"x": {"datum": -0.165, "type": "quantitative", "axis": null, "scale": {"domain": [0, 5.25], "range": [58, 472.75], "nice": false, "zero": false}}, "y": {"datum": 47.4, "type": "quantitative", "axis": null, "scale": {"domain": [-400, 400], "range": [624, 320], "nice": false, "zero": false}}, "y2": {"datum": -52.6}}},
    {"data": {"values": [{}]}, "mark": {"type": "rule", "color": "#000", "strokeWidth": 2},
     "encoding": {"x": {"datum": 0, "type": "quantitative", "axis": null, "scale": {"domain": [0, 5.25], "range": [58, 472.75], "nice": false, "zero": false}}, "x2": {"datum": 1}, "y": {"datum": -176.3, "type": "quantitative", "axis": null, "scale": {"domain": [-400, 400], "range": [624, 320], "nice": false, "zero": false}}}},
    {"data": {"values": [{"label": "100°/s"}]}, "mark": {"type": "text", "align": "right", "baseline": "middle", "fontSize": 13},
     "encoding": {"x": {"datum": -0.24, "type": "quantitative", "axis": null, "scale": {"domain": [0, 5.25], "range": [58, 472.75], "nice": false, "zero": false}}, "y": {"datum": -7.9, "type": "quantitative", "axis": null, "scale": {"domain": [-400, 400], "range": [624, 320], "nice": false, "zero": false}}, "text": {"field": "label"}}},
    {"data": {"values": [{"label": "1s"}]}, "mark": {"type": "text", "align": "center", "baseline": "middle", "fontSize": 13},
     "encoding": {"x": {"datum": 0.46, "type": "quantitative", "axis": null, "scale": {"domain": [0, 5.25], "range": [58, 472.75], "nice": false, "zero": false}}, "y": {"datum": -218.4, "type": "quantitative", "axis": null, "scale": {"domain": [-400, 400], "range": [624, 320], "nice": false, "zero": false}}, "text": {"field": "label"}}},

    {"data": {"name": "specNl"}, "mark": {"type": "line", "color": "#2fe4ee", "strokeWidth": 2, "interpolate": "monotone"},
     "encoding": {
       "x": {"field": "f", "type": "quantitative", "scale": {"domain": [0, 20], "range": [447, 715], "nice": false, "zero": false},
             "axis": {"orient": "bottom", "offset": -701, "values": [0, 5, 10, 15, 20], "tickSize": -4, "labelPadding": 8, "labelFontSize": 16, "title": "Frequency (Hz)", "titleFontSize": 16, "titlePadding": 1}},
       "y": {"field": "p", "type": "quantitative", "scale": {"type": "log", "domain": [0.1, 1000], "range": [290, 86], "nice": false},
             "axis": {"orient": "left", "offset": -447, "values": [0.1,0.2,0.3,0.4,0.5,0.6,0.7,0.8,0.9,1,2,3,4,5,6,7,8,9,10,20,30,40,50,60,70,80,90,100,200,300,400,500,600,700,800,900,1000], "labelExpr": "datum.value == 0.1 ? '10⁻¹' : datum.value == 1 ? '10⁰' : datum.value == 10 ? '10¹' : datum.value == 100 ? '10²' : datum.value == 1000 ? '10³' : ''", "tickSize": -4, "labelPadding": 8, "labelFontSize": 17, "title": "Power (deg²/s)", "titleFontSize": 19, "titlePadding": 1}}
     }},
    {"data": {"name": "specNat"}, "mark": {"type": "line", "color": "#e8121a", "strokeWidth": 2, "interpolate": "monotone"},
     "encoding": {"x": {"field": "f", "type": "quantitative", "axis": null, "scale": {"domain": [0, 20], "range": [447, 715], "nice": false, "zero": false}}, "y": {"field": "p", "type": "quantitative", "axis": null, "scale": {"type": "log", "domain": [0.1, 1000], "range": [290, 86], "nice": false}}}},
    {"data": {"values": [{}]}, "mark": {"type": "rect", "fill": "#fff", "stroke": "#000", "strokeWidth": 1},
     "encoding": {"x": {"datum": 0.9, "type": "quantitative", "axis": null, "scale": {"domain": [0, 20], "range": [447, 715], "nice": false, "zero": false}}, "x2": {"datum": 9.33}, "y": {"datum": 1.8, "type": "quantitative", "axis": null, "scale": {"type": "log", "domain": [0.1, 1000], "range": [290, 86], "nice": false}}, "y2": {"datum": 0.2825}}},
    {"data": {"values": [{}]}, "mark": {"type": "rule", "color": "#e8121a", "strokeWidth": 2},
     "encoding": {"x": {"datum": 1.19, "type": "quantitative", "axis": null, "scale": {"domain": [0, 20], "range": [447, 715], "nice": false, "zero": false}}, "x2": {"datum": 2.99}, "y": {"datum": 1.094, "type": "quantitative", "axis": null, "scale": {"type": "log", "domain": [0.1, 1000], "range": [290, 86], "nice": false}}}},
    {"data": {"values": [{}]}, "mark": {"type": "rule", "color": "#2fe4ee", "strokeWidth": 2},
     "encoding": {"x": {"datum": 1.19, "type": "quantitative", "axis": null, "scale": {"domain": [0, 20], "range": [447, 715], "nice": false, "zero": false}}, "x2": {"datum": 2.99}, "y": {"datum": 0.464, "type": "quantitative", "axis": null, "scale": {"type": "log", "domain": [0.1, 1000], "range": [290, 86], "nice": false}}}},
    {"data": {"values": [{"label": "Natural"}]}, "mark": {"type": "text", "align": "left", "baseline": "middle", "fontSize": 15},
     "encoding": {"x": {"datum": 3.36, "type": "quantitative", "axis": null, "scale": {"domain": [0, 20], "range": [447, 715], "nice": false, "zero": false}}, "y": {"datum": 1.094, "type": "quantitative", "axis": null, "scale": {"type": "log", "domain": [0.1, 1000], "range": [290, 86], "nice": false}}, "text": {"field": "label"}}},
    {"data": {"values": [{"label": "Naturalistic"}]}, "mark": {"type": "text", "align": "left", "baseline": "middle", "fontSize": 15},
     "encoding": {"x": {"datum": 3.36, "type": "quantitative", "axis": null, "scale": {"domain": [0, 20], "range": [447, 715], "nice": false, "zero": false}}, "y": {"datum": 0.464, "type": "quantitative", "axis": null, "scale": {"type": "log", "domain": [0.1, 1000], "range": [290, 86], "nice": false}}, "text": {"field": "label"}}},

    {"data": {"values": [{}]}, "mark": {"type": "rect", "color": "#c8c8c8"},
     "encoding": {
       "x": {"datum": 0, "type": "quantitative", "scale": {"domain": [0, 50], "range": [577, 740], "nice": false, "zero": false},
             "axis": {"orient": "bottom", "offset": -858, "values": [0, 25, 50], "tickSize": -3, "labelPadding": 5, "labelFontSize": 9, "title": "Frequency (Hz)", "titleFontSize": 9, "titlePadding": 1}},
       "x2": {"datum": 20},
       "y": {"datum": 0.001, "type": "quantitative", "scale": {"type": "log", "domain": [0.001, 1000], "range": [133, 7], "nice": false},
             "axis": {"orient": "left", "offset": -577, "values": [0.001, 0.01, 0.1, 1, 10, 100, 1000], "labelExpr": "datum.value < 0.005 ? '10⁻³' : datum.value < 0.05 ? '10⁻²' : datum.value < 0.5 ? '10⁻¹' : datum.value < 5 ? '10⁰' : datum.value < 50 ? '10¹' : datum.value < 500 ? '10²' : '10³'", "tickSize": -3, "labelPadding": 5, "labelFontSize": 9, "title": "Power (deg²/s)", "titleFontSize": 10, "titlePadding": 2}},
       "y2": {"datum": 1000}}},
    {"data": {"name": "inset"}, "mark": {"type": "line", "color": "#2fe4ee", "strokeWidth": 1},
     "encoding": {"x": {"field": "f", "type": "quantitative", "axis": null, "scale": {"domain": [0, 50], "range": [577, 740], "nice": false, "zero": false}}, "y": {"field": "nl", "type": "quantitative", "axis": null, "scale": {"type": "log", "domain": [0.001, 1000], "range": [133, 7], "nice": false}}}},
    {"data": {"name": "inset"}, "mark": {"type": "line", "color": "#e8121a", "strokeWidth": 1},
     "encoding": {"x": {"field": "f", "type": "quantitative", "axis": null, "scale": {"domain": [0, 50], "range": [577, 740], "nice": false, "zero": false}}, "y": {"field": "nat", "type": "quantitative", "axis": null, "scale": {"type": "log", "domain": [0.001, 1000], "range": [133, 7], "nice": false}}}},

    {"data": {"name": "bl"}, "mark": {"type": "line", "color": "#000", "strokeWidth": 1.3},
     "encoding": {
       "x": {"field": "v", "type": "quantitative", "scale": {"domain": [-100, 150], "range": [64, 375], "nice": false, "zero": false},
             "axis": {"orient": "bottom", "offset": -42, "values": [-100, -50, 0, 50, 100, 150], "format": "d", "tickSize": -4, "labelPadding": 12, "labelFontSize": 14, "title": "Head velocity (°/s)", "titleFontSize": 16, "titlePadding": 0}},
       "y": {"field": "p", "type": "quantitative", "scale": {"domain": [0, 0.05], "range": [949, 714], "nice": false, "zero": false},
             "axis": {"orient": "left", "offset": -64, "values": [0, 0.01, 0.02, 0.03, 0.04, 0.05], "format": "~g", "tickSize": -4, "labelPadding": 7, "labelFontSize": 14, "title": "Probability density", "titleFontSize": 16, "titlePadding": 13}}
     }},
    {"data": {"name": "blfit"}, "mark": {"type": "line", "color": "#e8121a", "strokeWidth": 2},
     "encoding": {"x": {"field": "v", "type": "quantitative", "axis": null, "scale": {"domain": [-100, 150], "range": [64, 375], "nice": false, "zero": false}}, "y": {"field": "p", "type": "quantitative", "axis": null, "scale": {"domain": [0, 0.05], "range": [949, 714], "nice": false, "zero": false}}}},
    {"data": {"values": [{}]}, "mark": {"type": "rule", "color": "#000", "strokeWidth": 2},
     "encoding": {"x": {"datum": 23, "type": "quantitative", "axis": null, "scale": {"domain": [-100, 150], "range": [64, 375], "nice": false, "zero": false}}, "x2": {"datum": 47.9}, "y": {"datum": 0.04702, "type": "quantitative", "axis": null, "scale": {"domain": [0, 0.05], "range": [949, 714], "nice": false, "zero": false}}}},
    {"data": {"values": [{}]}, "mark": {"type": "rule", "color": "#e8121a", "strokeWidth": 2},
     "encoding": {"x": {"datum": 23, "type": "quantitative", "axis": null, "scale": {"domain": [-100, 150], "range": [64, 375], "nice": false, "zero": false}}, "x2": {"datum": 47.9}, "y": {"datum": 0.04234, "type": "quantitative", "axis": null, "scale": {"domain": [0, 0.05], "range": [949, 714], "nice": false, "zero": false}}}},
    {"data": {"values": [{"label": "Naturalistic stimuli"}]}, "mark": {"type": "text", "align": "left", "baseline": "middle", "fontSize": 16},
     "encoding": {"x": {"datum": 49.5, "type": "quantitative", "axis": null, "scale": {"domain": [-100, 150], "range": [64, 375], "nice": false, "zero": false}}, "y": {"datum": 0.04702, "type": "quantitative", "axis": null, "scale": {"domain": [0, 0.05], "range": [949, 714], "nice": false, "zero": false}}, "text": {"field": "label"}}},
    {"data": {"values": [{"label": "Fit"}]}, "mark": {"type": "text", "align": "left", "baseline": "middle", "fontSize": 16},
     "encoding": {"x": {"datum": 49.5, "type": "quantitative", "axis": null, "scale": {"domain": [-100, 150], "range": [64, 375], "nice": false, "zero": false}}, "y": {"datum": 0.04234, "type": "quantitative", "axis": null, "scale": {"domain": [0, 0.05], "range": [949, 714], "nice": false, "zero": false}}, "text": {"field": "label"}}},
    {"data": {"values": [{"label": "B"}]}, "mark": {"type": "text", "align": "left", "baseline": "alphabetic", "fontSize": 38},
     "encoding": {"x": {"datum": -146.6, "type": "quantitative", "axis": null, "scale": {"domain": [-100, 150], "range": [64, 375], "nice": false, "zero": false}}, "y": {"datum": 0.05787, "type": "quantitative", "axis": null, "scale": {"domain": [0, 0.05], "range": [949, 714], "nice": false, "zero": false}}, "text": {"field": "label"}}},

    {"data": {"name": "br"}, "mark": {"type": "line", "color": "#000", "strokeWidth": 1.3},
     "encoding": {
       "x": {"field": "hz", "type": "quantitative", "scale": {"domain": [0, 250], "range": [475.7, 766.7], "nice": false, "zero": false},
             "axis": {"orient": "bottom", "offset": -41.7, "values": [0, 50, 100, 150, 200, 250], "format": "d", "tickSize": -4, "labelPadding": 12, "labelFontSize": 14, "title": "Firing rate (Hz)", "titleFontSize": 16, "titlePadding": 0}},
       "y": {"field": "p", "type": "quantitative", "scale": {"domain": [0, 0.02], "range": [949.3, 712.7], "nice": false, "zero": false},
             "axis": {"orient": "left", "offset": -475.7, "values": [0, 0.005, 0.01, 0.015, 0.02], "format": "~g", "tickSize": -4, "labelPadding": 7, "labelFontSize": 14, "title": "Probability density", "titleFontSize": 16, "titlePadding": 3}}
     }},
    {"data": {"name": "brfit"}, "mark": {"type": "line", "color": "#e8121a", "strokeWidth": 2},
     "encoding": {"x": {"field": "hz", "type": "quantitative", "axis": null, "scale": {"domain": [0, 250], "range": [475.7, 766.7], "nice": false, "zero": false}}, "y": {"field": "p", "type": "quantitative", "axis": null, "scale": {"domain": [0, 0.02], "range": [949.3, 712.7], "nice": false, "zero": false}}}},
    {"data": {"values": [{}]}, "mark": {"type": "rule", "color": "#000", "strokeWidth": 2},
     "encoding": {"x": {"datum": 158.3, "type": "quantitative", "axis": null, "scale": {"domain": [0, 250], "range": [475.7, 766.7], "nice": false, "zero": false}}, "x2": {"datum": 185.8}, "y": {"datum": 0.0186, "type": "quantitative", "axis": null, "scale": {"domain": [0, 0.02], "range": [949.3, 712.7], "nice": false, "zero": false}}}},
    {"data": {"values": [{}]}, "mark": {"type": "rule", "color": "#e8121a", "strokeWidth": 2},
     "encoding": {"x": {"datum": 158.3, "type": "quantitative", "axis": null, "scale": {"domain": [0, 250], "range": [475.7, 766.7], "nice": false, "zero": false}}, "x2": {"datum": 185.8}, "y": {"datum": 0.01685, "type": "quantitative", "axis": null, "scale": {"domain": [0, 0.02], "range": [949.3, 712.7], "nice": false, "zero": false}}}},
    {"data": {"values": [{"label": "Firing rate"}]}, "mark": {"type": "text", "align": "left", "baseline": "middle", "fontSize": 16},
     "encoding": {"x": {"datum": 186.9, "type": "quantitative", "axis": null, "scale": {"domain": [0, 250], "range": [475.7, 766.7], "nice": false, "zero": false}}, "y": {"datum": 0.0186, "type": "quantitative", "axis": null, "scale": {"domain": [0, 0.02], "range": [949.3, 712.7], "nice": false, "zero": false}}, "text": {"field": "label"}}},
    {"data": {"values": [{"label": "Fit"}]}, "mark": {"type": "text", "align": "left", "baseline": "middle", "fontSize": 16},
     "encoding": {"x": {"datum": 186.9, "type": "quantitative", "axis": null, "scale": {"domain": [0, 250], "range": [475.7, 766.7], "nice": false, "zero": false}}, "y": {"datum": 0.01685, "type": "quantitative", "axis": null, "scale": {"domain": [0, 0.02], "range": [949.3, 712.7], "nice": false, "zero": false}}, "text": {"field": "label"}}}
  ]
}
